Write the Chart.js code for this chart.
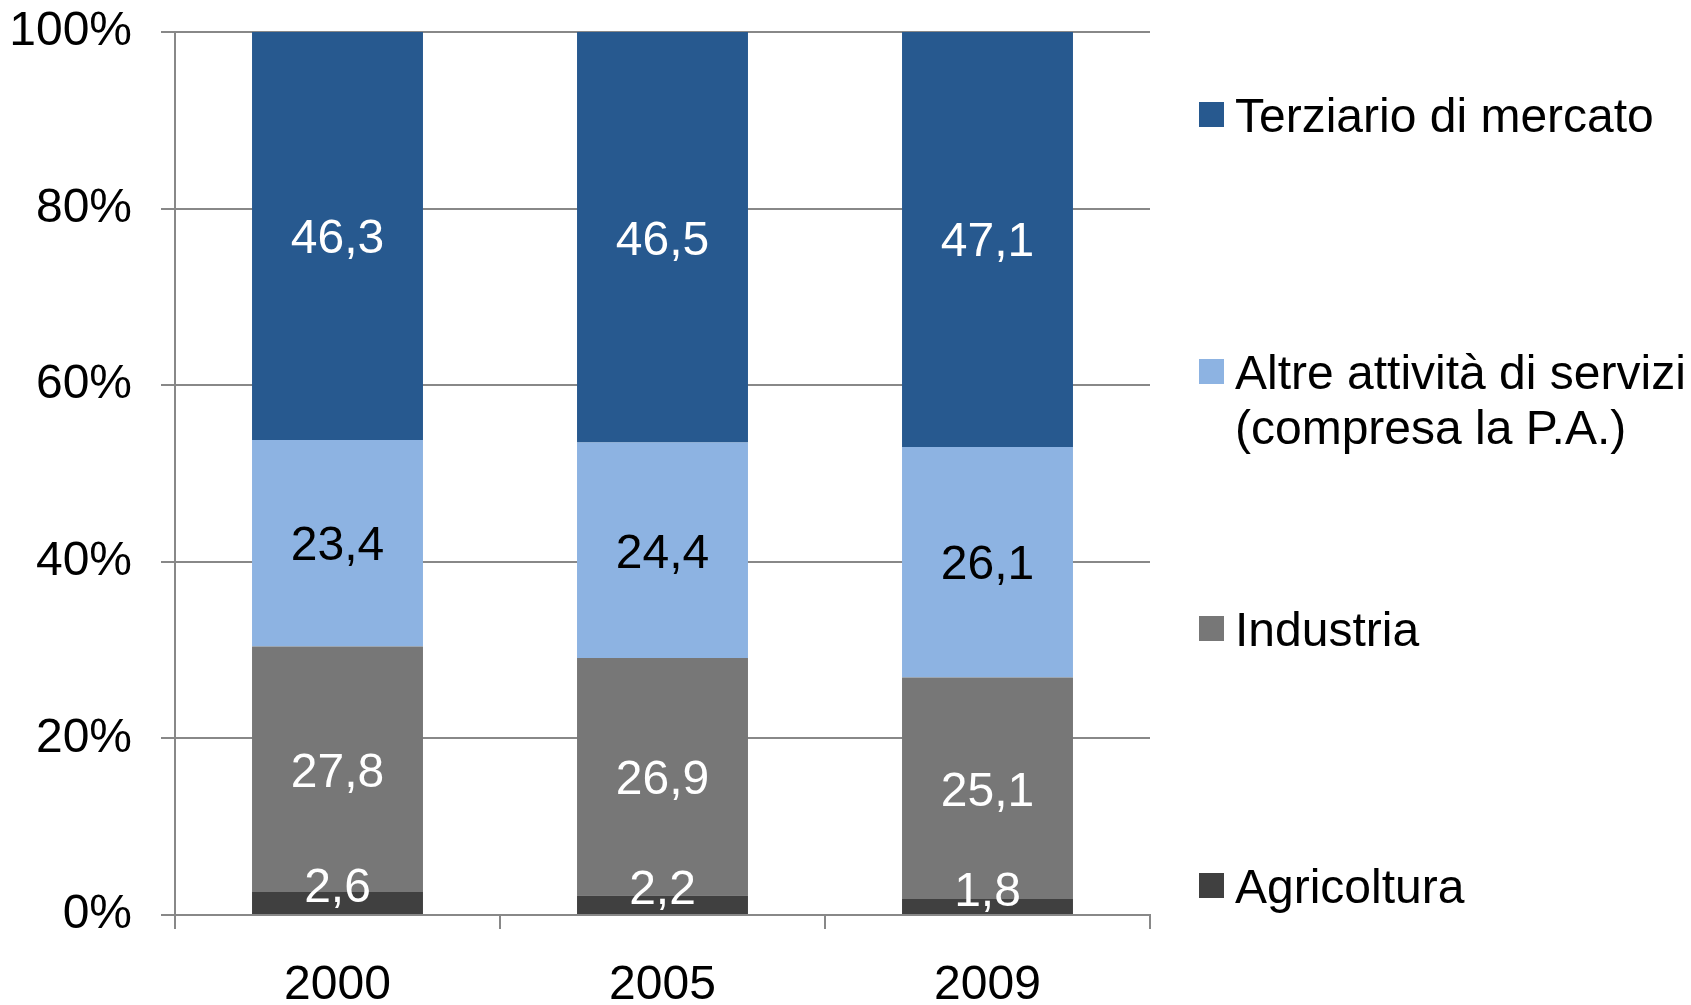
<!DOCTYPE html>
<html lang="it">
<head>
  <meta charset="UTF-8">
  <title>Occupati per settore</title>
  <script src="https://cdn.jsdelivr.net/npm/chart.js"></script>
  <style>
    body { margin: 0; background: #fff; font-family: "Liberation Sans", Arial, sans-serif; }
    #wrap { position: relative; width: 1691px; height: 1005px; }
    .leg { position: absolute; left: 1199px; font-size: 48px; line-height: 55px; color: #000; white-space: pre-line; }
    .leg i { position: absolute; left: 0; top: 14px; width: 25px; height: 25px; }
    .leg span { display: block; margin-left: 36px; }
  </style>
</head>
<body>
  <div id="wrap">
    <canvas id="chart" width="1691" height="1005"></canvas>
  </div>

  <script>
    // dati
    const anni = ['2000', '2005', '2009'];
    const agricoltura = [2.6, 2.2, 1.8];
    const industria = [27.8, 26.9, 25.1];
    const altreServizi = [23.4, 24.4, 26.1];
    const terziario = [46.3, 46.5, 47.1];
    const nomiSerie = ['Agricoltura', 'Industria', 'Altre attività di servizi\n(compresa la P.A.)', 'Terziario di mercato'];
    const yTicks = [0, 20, 40, 60, 80, 100];

    const colori = ['#404040', '#777777', '#8DB3E2', '#27598F'];
    const coloriEtichette = ['#fff', '#fff', '#000', '#fff'];
    const FONT = '"Liberation Sans", Arial, sans-serif';

    const serie = [agricoltura, industria, altreServizi, terziario];

    // etichette dentro le barre
    const etichette = {
      id: 'etichette',
      afterDatasetsDraw(chart) {
        const ctx = chart.ctx;
        ctx.save();
        ctx.font = '48px ' + FONT;
        ctx.textAlign = 'center';
        ctx.textBaseline = 'middle';
        chart.data.datasets.forEach((ds, i) => {
          chart.getDatasetMeta(i).data.forEach((bar, j) => {
            const v = ds.data[j];
            let y = (bar.y + bar.base) / 2 + 4;
            if (v < 5) y -= 18;
            ctx.fillStyle = coloriEtichette[i];
            ctx.fillText(v.toFixed(1).replace('.', ','), bar.x, y);
          });
        });
        ctx.restore();
      }
    };

    new Chart(document.getElementById('chart'), {
      type: 'bar',
      data: {
        labels: anni,
        datasets: serie.map((d, i) => ({
          label: nomiSerie[i],
          data: d,
          backgroundColor: colori[i],
          borderWidth: 0,
          categoryPercentage: 1,
          barPercentage: 0.526
        }))
      },
      options: {
        responsive: false,
        animation: false,
        layout: { padding: { top: 32, right: 541, left: 0, bottom: 0 } },
        plugins: { legend: { display: false }, tooltip: { enabled: false } },
        scales: {
          x: {
            stacked: true,
            afterFit: s => { s.height = 90; s.paddingLeft = 0; s.paddingRight = 0; },
            border: { color: '#888', width: 2 },
            grid: { drawOnChartArea: false, drawTicks: true, tickLength: 14, color: '#888', lineWidth: 2 },
            ticks: { color: '#000', padding: 28, font: { size: 48, family: FONT } }
          },
          y: {
            stacked: true,
            min: 0,
            max: 100,
            afterFit: s => { s.width = 175; s.paddingTop = 0; s.paddingBottom = 0; },
            afterBuildTicks: s => { s.ticks = yTicks.map(v => ({ value: v })); },
            border: { color: '#888', width: 2 },
            grid: { color: '#888', lineWidth: 2, tickLength: 14 },
            ticks: {
              color: '#000', padding: 29,
              font: { size: 48, family: FONT },
              callback: v => v + '%'
            }
          }
        }
      },
      plugins: [etichette]
    });

    // legenda a destra (ordine inverso come nell'originale)
    const legendaTop = [859, 602, 345, 88];
    const wrap = document.getElementById('wrap');
    nomiSerie.forEach((nome, i) => {
      const el = document.createElement('div');
      el.className = 'leg';
      el.style.top = legendaTop[i] + 'px';
      const q = document.createElement('i');
      q.style.background = colori[i];
      const t = document.createElement('span');
      t.textContent = nome;
      el.appendChild(q);
      el.appendChild(t);
      wrap.appendChild(el);
    });
  </script>
</body>
</html>
